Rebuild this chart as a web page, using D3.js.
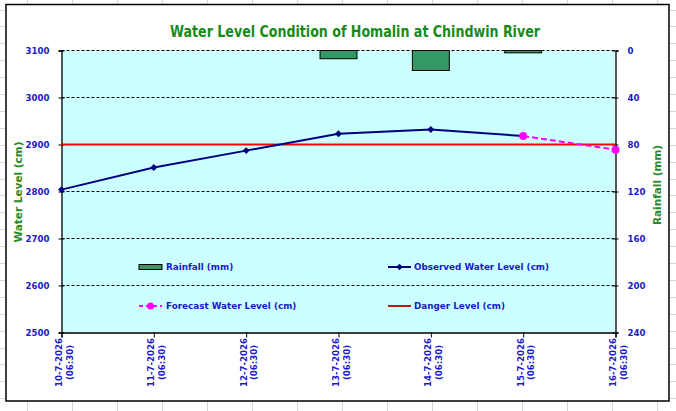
<!DOCTYPE html>
<html lang="en">
<head>
<meta charset="utf-8">
<title>Water Level Condition of Homalin at Chindwin River</title>
<script src="https://cdn.jsdelivr.net/npm/d3@7"></script>
<style>
  body { margin: 0; background: #fff; }
  svg text { font-family: "DejaVu Sans", Verdana, sans-serif; font-weight: bold; }
</style>
</head>
<body>
<svg id="chart" width="676" height="411"></svg>
<script>
// dates on the category axis
var dates = ["10-7-2026", "11-7-2026", "12-7-2026", "13-7-2026", "14-7-2026", "15-7-2026", "16-7-2026"];
var timeLabel = "(06:30)";

// water level in cm, null where there is no reading
var observed = [2804, 2851, 2887, 2923, 2932, 2918, null];
var forecast = [null, null, null, null, null, 2918, 2889];
var dangerLevel = 2900;

// rainfall in mm
var rainfall = [0, 0, 0, 7, 17, 2, 0];

var levelTicks = [2500, 2600, 2700, 2800, 2900, 3000, 3100];
var rainTicks = [0, 40, 80, 120, 160, 200, 240];

var svg = d3.select("#chart");
var W = 676, H = 411;
var plot = {left: 61.5, right: 615.5, top: 50.5, bottom: 332.5};
var blue = "#1a1ac8", green = "#188a18";

// spreadsheet cells behind the chart
var grid = svg.append("g").attr("stroke", "#d6d6d6").attr("stroke-width", 1);
d3.range(27.5, W, 45).forEach(function(x) {
    grid.append("line").attr("x1", x).attr("x2", x).attr("y1", 0).attr("y2", H);
});
d3.range(9.5, H, 16.9).forEach(function(y) {
    grid.append("line").attr("x1", 0).attr("x2", W).attr("y1", Math.round(y) + 0.5).attr("y2", Math.round(y) + 0.5);
});

// chart frame
svg.append("rect")
    .attr("x", 6).attr("y", 4.5).attr("width", 663).attr("height", 396.5)
    .attr("fill", "#fff").attr("stroke", "#000").attr("stroke-width", 1.5);

var x = d3.scalePoint().domain(dates).range([plot.left, plot.right]);
var yL = d3.scaleLinear().domain([2500, 3100]).range([plot.bottom, plot.top]);
var yR = d3.scaleLinear().domain([0, 240]).range([plot.top, plot.bottom]);

// plot area
svg.append("rect")
    .attr("x", plot.left).attr("y", plot.top)
    .attr("width", plot.right - plot.left).attr("height", plot.bottom - plot.top)
    .attr("fill", "#ccffff");

// dashed gridlines
svg.append("g").selectAll("line")
    .data(levelTicks.slice(1))
    .enter().append("line")
    .attr("x1", plot.left).attr("x2", plot.right)
    .attr("y1", function(d) { return yL(d); }).attr("y2", function(d) { return yL(d); })
    .attr("stroke", "#000").attr("stroke-width", 1).attr("stroke-dasharray", "3,2");

// rainfall bars hanging from the top
var barW = x.step() * 0.4;
svg.append("g").selectAll("rect")
    .data(rainfall.map(function(r, i) { return {date: dates[i], rain: r}; }).filter(function(d) { return d.rain > 0; }))
    .enter().append("rect")
    .attr("x", function(d) { return x(d.date) - barW / 2; })
    .attr("y", yR(0))
    .attr("width", barW)
    .attr("height", function(d) { return yR(d.rain) - yR(0); })
    .attr("fill", "#339966").attr("stroke", "#000").attr("stroke-width", 1);

// axes
var left = svg.append("g")
    .attr("transform", "translate(" + plot.left + ",0)")
    .call(d3.axisLeft(yL).tickValues(levelTicks).tickFormat(d3.format("d"))
        .tickSizeOuter(0).tickSize(3).tickPadding(9));
var right = svg.append("g")
    .attr("transform", "translate(" + plot.right + ",0)")
    .call(d3.axisRight(yR).tickValues(rainTicks).tickSizeOuter(0).tickSize(3).tickPadding(9));
var bottom = svg.append("g")
    .attr("transform", "translate(0," + plot.bottom + ")")
    .call(d3.axisBottom(x).tickSizeOuter(0).tickSize(5).tickFormat(""));

[left, right, bottom].forEach(function(ax) {
    ax.select(".domain").attr("stroke", "#000").attr("stroke-width", 1.3);
    ax.selectAll(".tick line").attr("stroke", "#000");
    ax.selectAll(".tick text").attr("fill", blue).attr("font-size", 8.6).attr("font-family", null);
});
left.selectAll(".tick line").attr("x1", 3);
right.selectAll(".tick line").attr("x1", -3);

// two-line rotated date labels
bottom.selectAll(".tick").each(function(d) {
    var t = d3.select(this).append("text")
        .attr("transform", "translate(0,30) rotate(-90)")
        .attr("text-anchor", "middle")
        .attr("fill", blue).attr("font-size", 8.6);
    t.append("tspan").attr("x", 0).attr("y", 0).text(d);
    t.append("tspan").attr("x", 0).attr("y", 10.5).text(timeLabel);
});

// danger level
svg.append("line")
    .attr("x1", plot.left).attr("x2", plot.right)
    .attr("y1", yL(dangerLevel)).attr("y2", yL(dangerLevel))
    .attr("stroke", "#ff0000").attr("stroke-width", 2);

var line = d3.line()
    .defined(function(d) { return d.v != null; })
    .x(function(d) { return x(d.date); })
    .y(function(d) { return yL(d.v); });

var obsData = observed.map(function(v, i) { return {date: dates[i], v: v}; });
var fcData = forecast.map(function(v, i) { return {date: dates[i], v: v}; });

// square turned 45 degrees, like Excel's diamond marker
var diamond = d3.symbol(d3.symbolSquare, 24);

svg.append("path").datum(obsData)
    .attr("d", line).attr("fill", "none").attr("stroke", "#000080").attr("stroke-width", 2);
svg.append("g").selectAll("path")
    .data(obsData.filter(function(d) { return d.v != null; }))
    .enter().append("path")
    .attr("d", diamond)
    .attr("transform", function(d) { return "translate(" + x(d.date) + "," + yL(d.v) + ") rotate(45)"; })
    .attr("fill", "#000080");

svg.append("path").datum(fcData)
    .attr("d", line).attr("fill", "none").attr("stroke", "#ff00ff").attr("stroke-width", 2)
    .attr("stroke-dasharray", "6,3");
svg.append("g").selectAll("circle")
    .data(fcData.filter(function(d) { return d.v != null; }))
    .enter().append("circle")
    .attr("cx", function(d) { return x(d.date); })
    .attr("cy", function(d) { return yL(d.v); })
    .attr("r", 4).attr("fill", "#ff00ff");

// legend
var legend = svg.append("g");
var lg1 = legend.append("g").attr("transform", "translate(139,267)");
lg1.append("rect").attr("x", 0).attr("y", -2.5).attr("width", 23).attr("height", 5)
    .attr("fill", "#339966").attr("stroke", "#000");
lg1.append("text").attr("x", 27).attr("dy", "0.35em").text("Rainfall (mm)");

var lg2 = legend.append("g").attr("transform", "translate(388,267)");
lg2.append("line").attr("x1", 0).attr("x2", 23).attr("stroke", "#000080").attr("stroke-width", 2);
lg2.append("path").attr("d", d3.symbol(d3.symbolSquare, 20)).attr("transform", "translate(11.5,0) rotate(45)").attr("fill", "#000080");
lg2.append("text").attr("x", 26).attr("dy", "0.35em").text("Observed Water Level (cm)");

var lg3 = legend.append("g").attr("transform", "translate(139,306)");
lg3.append("line").attr("x1", 0).attr("x2", 23).attr("stroke", "#ff00ff").attr("stroke-width", 2).attr("stroke-dasharray", "4,3");
lg3.append("circle").attr("cx", 11.5).attr("r", 3.5).attr("fill", "#ff00ff");
lg3.append("text").attr("x", 27).attr("dy", "0.35em").text("Forecast Water Level (cm)");

var lg4 = legend.append("g").attr("transform", "translate(388,306)");
lg4.append("line").attr("x1", 0).attr("x2", 23).attr("stroke", "#c01818").attr("stroke-width", 2);
lg4.append("text").attr("x", 26).attr("dy", "0.35em").text("Danger Level (cm)");

legend.selectAll("text").attr("fill", blue).attr("font-size", 8.8);

// titles
svg.append("text")
    .attr("x", 355).attr("y", 37)
    .attr("text-anchor", "middle")
    .attr("fill", green).attr("font-size", 16)
    .attr("textLength", 370).attr("lengthAdjust", "spacingAndGlyphs")
    .text("Water Level Condition of Homalin at Chindwin River");

svg.append("text")
    .attr("transform", "translate(22,192) rotate(-90)")
    .attr("text-anchor", "middle")
    .attr("fill", "#2a8a2a").attr("font-size", 10.5)
    .text("Water Level (cm)");

svg.append("text")
    .attr("transform", "translate(661,185) rotate(-90)")
    .attr("text-anchor", "middle")
    .attr("fill", "#2a8a2a").attr("font-size", 10.5)
    .text("Rainfall (mm)");
</script>
</body>
</html>
